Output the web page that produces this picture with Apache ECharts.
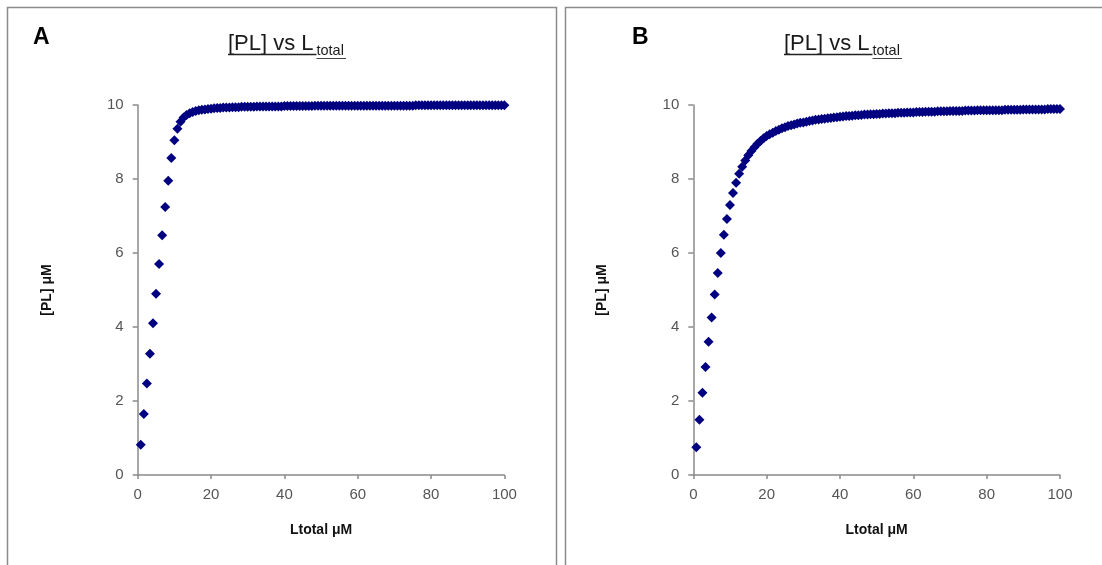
<!DOCTYPE html>
<html>
<head>
<meta charset="utf-8">
<script src="https://cdn.jsdelivr.net/npm/echarts@6/dist/echarts.min.js"></script>
<style>
html,body{margin:0;padding:0;background:#fff;}
#c{width:1102px;height:565px;}
</style>
</head>
<body>
<div id="c"></div>
<script>
// L_total values (µM)
var lTotal = [
0.83,1.67,2.5,3.33,4.17,5,5.83,6.67,7.5,8.33,
9.17,10,10.83,11.67,12.5,13.33,14.17,15,15.83,16.67,
17.5,18.33,19.17,20,20.83,21.67,22.5,23.33,24.17,25,
25.83,26.67,27.5,28.33,29.17,30,30.83,31.67,32.5,33.33,
34.17,35,35.83,36.67,37.5,38.33,39.17,40,40.83,41.67,
42.5,43.33,44.17,45,45.83,46.67,47.5,48.33,49.17,50,
50.83,51.67,52.5,53.33,54.17,55,55.83,56.67,57.5,58.33,
59.17,60,60.83,61.67,62.5,63.33,64.17,65,65.83,66.67,
67.5,68.33,69.17,70,70.83,71.67,72.5,73.33,74.17,75,
75.83,76.67,77.5,78.33,79.17,80,80.83,81.67,82.5,83.33,
84.17,85,85.83,86.67,87.5,88.33,89.17,90,90.83,91.67,
92.5,93.33,94.17,95,95.83,96.67,97.5,98.33,99.17,100
];
// [PL] values, panel A
var plA = [
0.82,1.65,2.47,3.28,4.10,4.90,5.70,6.48,7.24,7.95,
8.57,9.05,9.36,9.55,9.66,9.73,9.78,9.81,9.84,9.86,
9.87,9.88,9.89,9.90,9.91,9.92,9.92,9.93,9.93,9.93,
9.94,9.94,9.94,9.95,9.95,9.95,9.95,9.95,9.96,9.96,
9.96,9.96,9.96,9.96,9.96,9.96,9.96,9.97,9.97,9.97,
9.97,9.97,9.97,9.97,9.97,9.97,9.97,9.98,9.98,9.98,
9.98,9.98,9.98,9.98,9.98,9.98,9.98,9.98,9.98,9.98,
9.98,9.98,9.98,9.98,9.98,9.98,9.98,9.98,9.98,9.98,
9.98,9.98,9.98,9.98,9.98,9.98,9.98,9.98,9.98,9.98,
9.99,9.99,9.99,9.99,9.99,9.99,9.99,9.99,9.99,9.99,
9.99,9.99,9.99,9.99,9.99,9.99,9.99,9.99,9.99,9.99,
9.99,9.99,9.99,9.99,9.99,9.99,9.99,9.99,9.99,9.99
];
// [PL] values, panel B
var plB = [
0.75,1.49,2.22,2.92,3.60,4.26,4.88,5.46,6.00,6.49,
6.92,7.30,7.62,7.90,8.14,8.33,8.50,8.64,8.76,8.86,
8.95,9.03,9.10,9.16,9.21,9.25,9.30,9.33,9.37,9.40,
9.43,9.45,9.47,9.50,9.52,9.53,9.55,9.57,9.58,9.60,
9.61,9.62,9.63,9.64,9.65,9.66,9.67,9.68,9.69,9.70,
9.70,9.71,9.72,9.72,9.73,9.74,9.74,9.75,9.75,9.76,
9.76,9.77,9.77,9.78,9.78,9.78,9.79,9.79,9.79,9.80,
9.80,9.80,9.81,9.81,9.81,9.82,9.82,9.82,9.82,9.83,
9.83,9.83,9.83,9.84,9.84,9.84,9.84,9.84,9.85,9.85,
9.85,9.85,9.86,9.86,9.86,9.86,9.86,9.86,9.86,9.86,
9.86,9.87,9.87,9.87,9.87,9.87,9.87,9.88,9.88,9.88,
9.88,9.88,9.88,9.88,9.88,9.89,9.89,9.89,9.89,9.89
];
var panelLetters = ['A', 'B'];
var chartTitle = '[PL] vs L';
var chartTitleSub = 'total';
var xName = 'Ltotal \u03bcM';
var yName = '[PL] \u03bcM';

function zip(xs, ys){ return xs.map(function(x,i){ return [x, ys[i]]; }); }

var FONT = '"Liberation Sans", Arial, sans-serif';
var axisColor = '#8a8a8a';

function mkX(gi){
  return {
    type:'value', gridIndex:gi, min:0, max:100, interval:20,
    name:xName, nameLocation:'middle', nameGap:48,
    nameTextStyle:{fontFamily:FONT, fontSize:14, fontWeight:'bold', color:'#111'},
    axisLine:{show:true, onZero:false, lineStyle:{color:axisColor, width:1.5}},
    axisTick:{show:true, inside:false, length:4, lineStyle:{color:axisColor, width:1.5}},
    axisLabel:{fontFamily:FONT, fontSize:15, color:'#555', margin:12},
    splitLine:{show:false}
  };
}
function mkY(gi){
  return {
    type:'value', gridIndex:gi, min:0, max:10, interval:2,
    name:yName, nameLocation:'middle', nameGap:84, nameRotate:90,
    nameTextStyle:{fontFamily:FONT, fontSize:14, fontWeight:'bold', color:'#111'},
    axisLine:{show:true, onZero:false, lineStyle:{color:axisColor, width:1.5}},
    axisTick:{show:true, inside:false, length:5, lineStyle:{color:axisColor, width:1.5}},
    axisLabel:{fontFamily:FONT, fontSize:15, color:'#555', margin:14},
    splitLine:{show:false}
  };
}

var offsetB = 556;
function titleEls(dx){
  return [
    {type:'text', x:228+dx, y:44, style:{text:chartTitle, font:'22px '+FONT, fill:'#1a1a1a', align:'left', verticalAlign:'middle', textAlign:'left', textVerticalAlign:'middle'}},
    {type:'text', x:316.5+dx, y:51, style:{text:chartTitleSub, font:'14.5px '+FONT, fill:'#1a1a1a', align:'left', verticalAlign:'middle', textAlign:'left', textVerticalAlign:'middle'}},
    {type:'line', shape:{x1:228+dx, y1:54.5, x2:316.5+dx, y2:54.5}, style:{stroke:'#222', lineWidth:1.4}},
    {type:'line', shape:{x1:316.5+dx, y1:58.5, x2:346+dx, y2:58.5}, style:{stroke:'#444', lineWidth:1}}
  ];
}

var option = {
  animation:false,
  backgroundColor:'#fff',
  grid:[
    {left:137.7, width:366.7, top:105, height:370},
    {left:693.3, width:366.7, top:105, height:370}
  ],
  xAxis:[mkX(0), mkX(1)],
  yAxis:[mkY(0), mkY(1)],
  series:[
    {type:'scatter', xAxisIndex:0, yAxisIndex:0, data:zip(lTotal, plA), symbol:'diamond', symbolSize:[10,10], itemStyle:{color:'#000080', opacity:1}},
    {type:'scatter', xAxisIndex:1, yAxisIndex:1, data:zip(lTotal, plB), symbol:'diamond', symbolSize:[10,10], itemStyle:{color:'#000080', opacity:1}}
  ],
  graphic:[
    {type:'rect', shape:{x:7.5, y:7.5, width:549, height:620}, style:{fill:null, stroke:'#8c8c8c', lineWidth:1.5}},
    {type:'rect', shape:{x:565.5, y:7.5, width:620, height:620}, style:{fill:null, stroke:'#8c8c8c', lineWidth:1.5}},
    {type:'text', x:33, y:38, style:{text:panelLetters[0], font:'bold 23px '+FONT, fill:'#000', align:'left', verticalAlign:'middle', textAlign:'left', textVerticalAlign:'middle'}},
    {type:'text', x:632, y:38, style:{text:panelLetters[1], font:'bold 23px '+FONT, fill:'#000', align:'left', verticalAlign:'middle', textAlign:'left', textVerticalAlign:'middle'}}
  ].concat(titleEls(0)).concat(titleEls(offsetB))
};

var chart = echarts.init(document.getElementById('c'), null, {renderer:'canvas'});
chart.setOption(option);
</script>
</body>
</html>
